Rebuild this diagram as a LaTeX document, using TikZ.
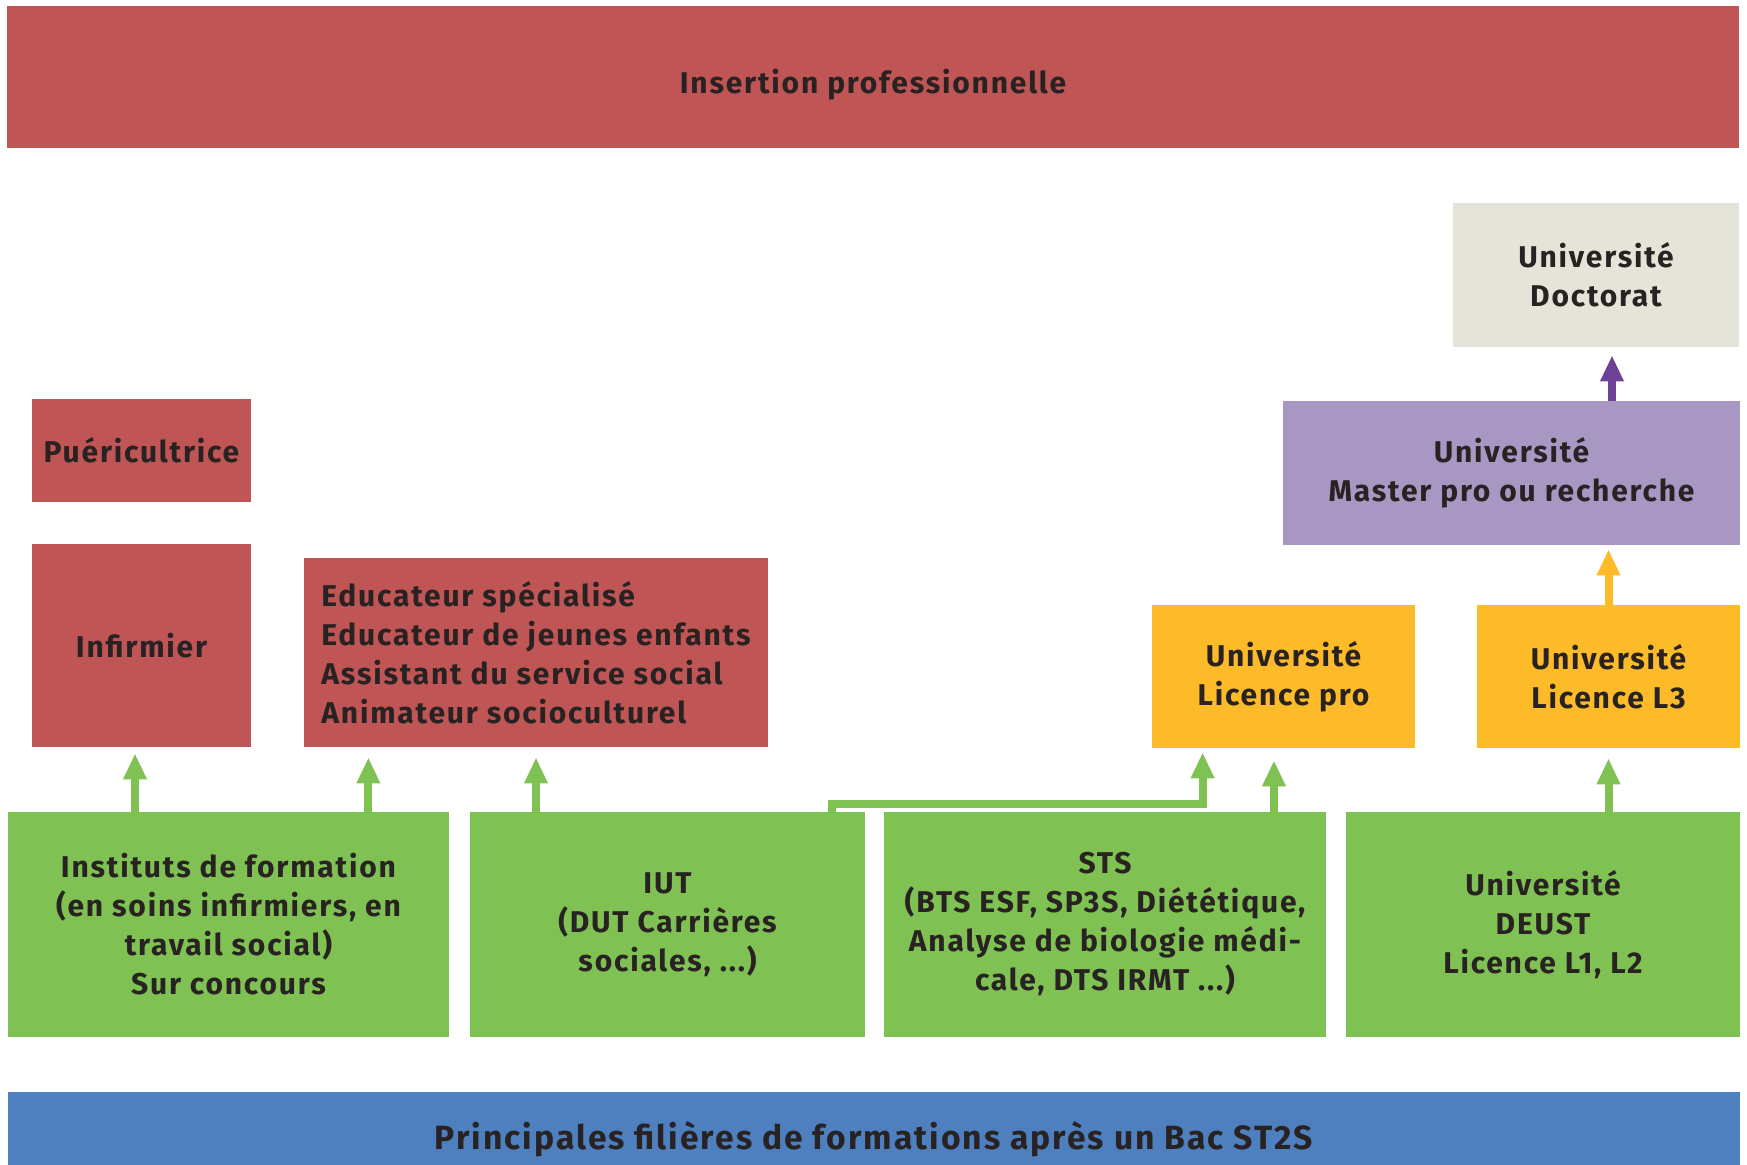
\documentclass[tikz,border=0pt]{standalone}
\usepackage{fontspec}
\setmainfont{Fira Sans}[LetterSpace=6]
\usetikzlibrary{arrows.meta}
\definecolor{rouge}{RGB}{191,85,85}
\definecolor{vert}{RGB}{127,193,82}
\definecolor{jaune}{RGB}{253,186,41}
\definecolor{mauve}{RGB}{168,151,194}
\definecolor{prune}{RGB}{110,65,150}
\definecolor{gris}{RGB}{228,228,216}
\definecolor{bleu}{RGB}{78,127,190}
\definecolor{encre}{RGB}{40,34,35}

\tikzset{
box/.style={rectangle, inner sep=0pt, text=encre, align=center,
font=\fontsize{15}{19.5}\selectfont\bfseries},
redbox/.style={box, fill=rouge},
greenbox/.style={box, fill=vert, minimum height=112.5pt},
yellowbox/.style={box, fill=jaune, minimum width=131.5pt, minimum height=71.5pt},
garrow/.style={draw=vert, line width=4pt, -{Triangle[width=11pt,length=13pt]}, shorten >=3pt},
}

\begin{document}
\begin{tikzpicture}
% 1px of the page = 0.5pt, page 873.5pt x 582.5pt
\clip (0, 0) rectangle (873.5pt, 582.5pt);
\fill[white] (0, 0) rectangle (873.5pt, 582.5pt);
\draw (436.5pt, 544pt) node[redbox, minimum width=866pt, minimum height=71pt, text height=20pt, text depth=3.5pt] (insert) {Insertion professionnelle};
\draw (437pt, 13pt) node[box, fill=bleu, minimum width=866pt, minimum height=47pt, font=\fontsize{16.8}{20}\selectfont\bfseries] (bac) {Principales filières de formations après un Bac ST2S};
	\draw (798pt, 445pt) node[box, fill=gris, minimum width=143pt, minimum height=72pt] (doct) {Université\\Doctorat};
	\draw (755.75pt, 346pt) node[box, fill=mauve, minimum width=228.5pt, minimum height=72pt] (master) {Université\\Master pro ou recherche};
	\draw (70.75pt, 357.25pt) node[redbox, minimum width=109.5pt, minimum height=51.5pt] (puer) {Puéricultrice};
	\draw (70.75pt, 259.75pt) node[redbox, minimum width=109.5pt, minimum height=101.5pt] (infir) {Infirmier};
	\draw (268pt, 256.25pt) node[redbox, align=left, minimum width=232pt, minimum height=94.5pt] (educ) {Educateur spécialisé\\Educateur de jeunes enfants\\Assistant du service social\\Animateur socioculturel};
	\draw (641.75pt, 244.25pt) node[yellowbox] (lpro) {Université\\Licence pro};
	\draw (804.25pt, 244.25pt) node[yellowbox] (lthree) {Université\\Licence L3};
	\draw (114.25pt, 120.25pt) node[greenbox, minimum width=220.5pt] (instit) {Instituts de formation\\(en soins infirmiers, en\\travail social)\\Sur concours};
	\draw (333.75pt, 120.25pt) node[greenbox, minimum width=197.5pt] (iut) {IUT\\(DUT Carrières\\sociales, ...)};
	\draw (552.5pt, 120.25pt) node[greenbox, minimum width=221pt] (sts) {STS\\(BTS ESF, SP3S, Diététique,\\Analyse de biologie médi-\\cale, DTS IRMT ...)};
	\draw (771.5pt, 120.25pt) node[greenbox, minimum width=197pt] (univ) {Université\\DEUST\\Licence L1, L2};
% arrows
\coordinate (instinf) at ([xshift=-3.25pt]infir.south |- instit.north);
\coordinate (instedu) at ([xshift=-40.5pt]instit.north east);
\coordinate (iutlp) at ([xshift=-16.5pt]iut.north east);
\coordinate (lpin) at ([xshift=25.5pt]lpro.south west);
\coordinate (stslp) at ([xshift=-4.75pt]lpro.south |- sts.north);
\coordinate (docin) at ([xshift=8pt]doct.south);
\draw[garrow] (instinf) -- (instinf |- infir.south);
\draw[garrow, shorten >=5pt] (instedu) -- (instedu |- educ.south);
\draw[garrow, shorten >=5pt] (educ.south |- iut.north) -- (educ.south);
\draw[garrow, shorten >=2pt] (iutlp) -- ++(0, 4pt) -| (lpin);
\draw[garrow, shorten >=6pt] (stslp) -- (stslp |- lpro.south);
\draw[garrow, shorten >=5pt] (lthree.south |- univ.north) -- (lthree.south);
\draw[draw=jaune, line width=4pt, -{Triangle[width=11pt,length=13pt]}, shorten >=2pt] (lthree.north) -- (lthree.north |- master.south);
\draw[draw=prune, line width=4pt, -{Triangle[width=11pt,length=13pt]}, shorten >=4pt] (docin |- master.north) -- (docin);
\end{tikzpicture}
\end{document}
